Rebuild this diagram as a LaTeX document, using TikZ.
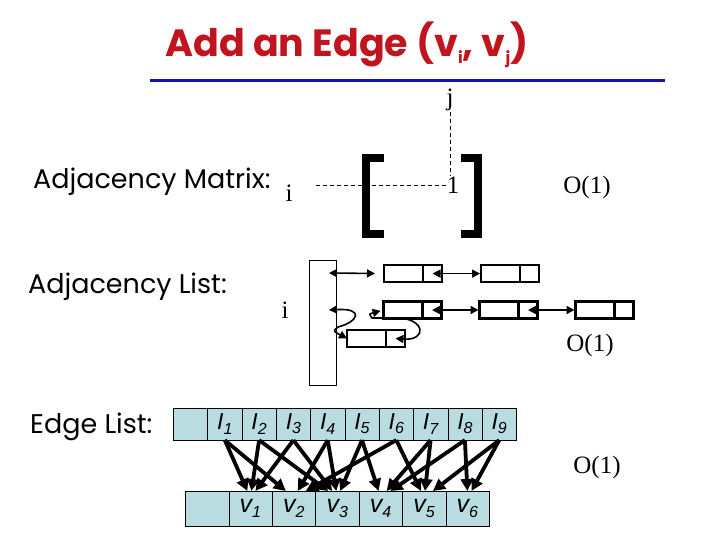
\documentclass[tikz,border=0pt]{standalone}
\usepackage{fontspec}
\setmainfont{Liberation Serif}
\setsansfont{Liberation Sans}
\newfontfamily\comicfont{Poppins}
\usetikzlibrary{arrows.meta,positioning,calc}
\definecolor{TitleRed}{HTML}{C0141E}
\definecolor{RuleBlue}{HTML}{1414B4}
\definecolor{CellFill}{HTML}{B9DCE1}
\newcommand{\lowidx}[1]{\raisebox{-0.35ex}{\fontsize{16}{16}\selectfont #1}}

\begin{document}
\begin{tikzpicture}[
    x=1pt,y=-1pt,
    sidetext/.style={font=\comicfont\fontsize{27}{30}\selectfont,anchor=west,inner sep=0pt},
    serifnum/.style={font=\fontsize{25}{27}\selectfont,inner sep=1pt},
    lcell/.style={draw,line width=2.6pt,minimum width=39pt,minimum height=17pt,inner sep=0pt,outer sep=0pt},
    rcell/.style={lcell,minimum width=19pt},
    ptr/.style={{Triangle[length=8pt,width=8pt]}-{Triangle[length=8pt,width=8pt]},line width=1.6pt},
    ecell/.style={draw,fill=CellFill,minimum width=34.3pt,minimum height=32.3pt,inner sep=0pt,outer sep=0pt,font=\sffamily\itshape\fontsize{23}{24}\selectfont},
    vcell/.style={ecell,minimum width=43.4pt,minimum height=35pt,font=\sffamily\itshape\fontsize{25}{26}\selectfont},
    link/.style={-{Triangle[length=12pt,width=12pt]},line width=3.8pt}
  ]
    \useasboundingbox (0,0) rectangle (720,540);
    % title and rule
    \node[font=\comicfont\bfseries\fontsize{38}{42}\selectfont,text=TitleRed] (title) at (347,45) {Add an Edge (v\lowidx{i}, v\lowidx{j})};
    \draw[RuleBlue,line width=3pt] (150,81) -- (665,81);

    % adjacency matrix
    \node[sidetext] (amlabel) at (33,182) {Adjacency Matrix:};
    \node[serifnum] (jtop) at (450,100) {j};
    \node[serifnum] (one) at (453,185) {1};
    \node[serifnum] (imat) at (289,193) {i};
    \draw[dashed,dash pattern=on 4pt off 3pt] (jtop.south) -- (jtop.south |- one.north);
    \draw[dashed,dash pattern=on 4pt off 3pt,shorten <=22pt] (imat.east |- one.west) -- (one.west);
    \draw[line width=8pt] (384,158) -- (366,158) -- (366,234) -- (384,234);
    \draw[line width=8pt] (461,158) -- (478,158) -- (478,234) -- (461,234);
    \node[serifnum] (cost1) at (587,187) {O(1)};

    % adjacency list
    \node[sidetext] (allabel) at (28,287) {Adjacency List:};
    \node[serifnum] (ilist) at (285,310) {i};
    \node[draw,line width=1pt,minimum width=27pt,minimum height=125pt,inner sep=0pt] (heads) at (322.5,322.5) {};
    \coordinate (hd1) at (329,273);
    \coordinate (hd2) at (329,310);
    \node[lcell] (a1) at (403.5,273.6) {};
    \node[rcell,right=0pt of a1] (a1p) {};
    \node[lcell,right=39pt of a1p] (b1) {};
    \node[rcell,right=0pt of b1] (b1p) {};
    \node[lcell] (c2) at (403,310) {};
    \node[rcell,right=0pt of c2] (c2p) {};
    \node[lcell,right=38pt of c2p] (d2) {};
    \node[rcell,right=0pt of d2] (d2p) {};
    \node[lcell,right=38pt of d2p] (e2) {};
    \node[rcell,right=0pt of e2] (e2p) {};
    \node[lcell] (n3) at (366.5,338.5) {};
    \node[rcell,right=0pt of n3] (n3p) {};
    \draw[ptr,shorten >=9pt] (hd1) -- (a1.west);
    \draw[ptr,shorten >=1pt] (a1p.center) -- (b1.west);
    \draw[ptr,shorten >=1pt] (c2p.center) -- (d2.west);
    \draw[ptr,shorten >=1pt] (d2p.center) -- (e2.west);
    \draw[ptr] (hd2) .. controls (365,308) and (358,322) .. (338,327) .. controls (333,331) .. (n3.west);
    \draw[ptr,shorten >=3pt] (n3p.center) .. controls (428,341) and (425,318) .. (397,318) -- (372,318) .. controls (369,314) .. (c2.west);
    \node[serifnum] (cost2) at (590,345) {O(1)};

    % edge list
    \node[sidetext] (ellabel) at (30,427) {Edge List:};
    \node[ecell] (e0) at (190.5,424) {};
    \node[ecell,right=0pt of e0] (e1) {I\lowidx{1}};
    \node[ecell,right=0pt of e1] (e2) {I\lowidx{2}};
    \node[ecell,right=0pt of e2] (e3) {I\lowidx{3}};
    \node[ecell,right=0pt of e3] (e4) {I\lowidx{4}};
    \node[ecell,right=0pt of e4] (e5) {I\lowidx{5}};
    \node[ecell,right=0pt of e5] (e6) {I\lowidx{6}};
    \node[ecell,right=0pt of e6] (e7) {I\lowidx{7}};
    \node[ecell,right=0pt of e7] (e8) {I\lowidx{8}};
    \node[ecell,right=0pt of e8] (e9) {I\lowidx{9}};
    \node[vcell] (v0) at (207,508.5) {};
    \node[vcell,right=0pt of v0] (v1) {v\lowidx{1}};
    \node[vcell,right=0pt of v1] (v2) {v\lowidx{2}};
    \node[vcell,right=0pt of v2] (v3) {v\lowidx{3}};
    \node[vcell,right=0pt of v3] (v4) {v\lowidx{4}};
    \node[vcell,right=0pt of v4] (v5) {v\lowidx{5}};
    \node[vcell,right=0pt of v5] (v6) {v\lowidx{6}};
    \draw[link] (e1.south) -- ($(v1.north)+(-3,0)$);
    \draw[link] (e1.south) -- ($(v2.north)+(-8,0)$);
    \draw[link] (e2.south) -- ($(v1.north)+(1,0)$);
    \draw[link] (e2.south) -- ($(v3.north)+(-9,0)$);
    \draw[link] (e3.south) -- ($(v1.north)+(5,0)$);
    \draw[link] (e3.south) -- ($(v3.north)+(-5,0)$);
    \draw[link] (e4.south) -- ($(v2.north)+(4,0)$);
    \draw[link] (e4.south) -- ($(v3.north)+(-1,0)$);
    \draw[link] (e5.south) -- ($(v3.north)+(3,0)$);
    \draw[link] (e5.south) -- ($(v4.north)+(-2,0)$);
    \draw[link] (e6.south) -- ($(v2.north)+(12,0)$);
    \draw[link] (e6.south) -- ($(v5.north)+(-3,0)$);
    \draw[link] (e7.south) -- ($(v4.north)+(6,0)$);
    \draw[link] (e7.south) -- ($(v5.north)+(1,0)$);
    \draw[link] (e8.south) -- ($(v4.north)+(10,0)$);
    \draw[link] (e8.south) -- ($(v6.north)+(0,0)$);
    \draw[link] (e9.south) -- ($(v5.north)+(9,0)$);
    \draw[link] (e9.south) -- ($(v6.north)+(4,0)$);
    \node[serifnum] (cost3) at (597,467) {O(1)};
  \end{tikzpicture}
\end{document}
